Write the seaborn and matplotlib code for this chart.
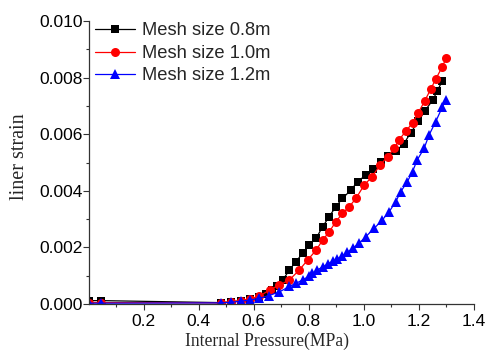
import matplotlib
matplotlib.use("Agg")
import matplotlib.pyplot as plt
import seaborn as sns
from matplotlib.ticker import MultipleLocator, FixedLocator

# dados
x_08 = [0.0, 0.045, 0.48, 0.517, 0.554, 0.584, 0.62, 0.645, 0.665, 0.685, 0.705,
        0.729, 0.753, 0.777, 0.80, 0.826, 0.85, 0.874, 0.898, 0.922, 0.953, 0.977,
        1.007, 1.034, 1.061, 1.088, 1.116, 1.146, 1.17, 1.198, 1.222, 1.251, 1.267, 1.285]
y_08 = [0.00012, 0.00012, 0.00005, 0.00008, 0.00012, 0.00017, 0.00025, 0.00035, 0.00048,
        0.00065, 0.00085, 0.0012, 0.0015, 0.00179, 0.00208, 0.00232, 0.00273, 0.00309,
        0.00344, 0.00373, 0.00403, 0.00432, 0.00456, 0.00478, 0.00502, 0.00522, 0.0054,
        0.00567, 0.00605, 0.00645, 0.00683, 0.00721, 0.00753, 0.00788]

x_10 = [0.0, 0.045, 0.48, 0.517, 0.554, 0.584, 0.62, 0.657, 0.693, 0.729, 0.765, 0.795,
        0.826, 0.85, 0.874, 0.898, 0.922, 0.947, 0.971, 1.001, 1.03, 1.058, 1.086, 1.11,
        1.128, 1.152, 1.177, 1.198, 1.221, 1.243, 1.261, 1.285, 1.30]
y_10 = [0.00005, 0.00005, 0.00004, 0.00007, 0.00012, 0.00018, 0.00027, 0.0005, 0.00067,
        0.00085, 0.0012, 0.00155, 0.0019, 0.00226, 0.00255, 0.00291, 0.0032, 0.00344,
        0.00373, 0.0042, 0.0045, 0.0049, 0.0052, 0.0055, 0.0058, 0.0061, 0.0064, 0.00676,
        0.00717, 0.00759, 0.00794, 0.00838, 0.0087]

x_12 = [0.0, 0.045, 0.48, 0.517, 0.554, 0.584, 0.62, 0.655, 0.693, 0.729, 0.753, 0.777,
        0.80, 0.813, 0.83, 0.85, 0.868, 0.886, 0.904, 0.922, 0.94, 0.959, 0.983, 1.007,
        1.037, 1.067, 1.092, 1.116, 1.134, 1.158, 1.177, 1.194, 1.219, 1.237, 1.261,
        1.285, 1.297]
y_12 = [0.00003, 0.00003, 0.00004, 0.00006, 0.0001, 0.00014, 0.0002, 0.0003, 0.00043,
        0.00062, 0.00073, 0.00085, 0.00098, 0.00108, 0.0012, 0.00131, 0.00141, 0.00151,
        0.0016, 0.0017, 0.00183, 0.00197, 0.00215, 0.00238, 0.00267, 0.00297, 0.00326,
        0.00362, 0.00397, 0.00432, 0.00468, 0.00509, 0.0055, 0.00597, 0.00644, 0.00695,
        0.0072]

labels = ["Mesh size 0.8m", "Mesh size 1.0m", "Mesh size 1.2m"]
x_ticks = [0.2, 0.4, 0.6, 0.8, 1.0, 1.2, 1.4]

sns.set_style("ticks")
plt.rcParams['font.family'] = ['Liberation Sans', 'DejaVu Sans']

fig = plt.figure(figsize=(4.86, 3.56), dpi=100)
ax = fig.add_axes([0.183, 0.146, 0.792, 0.795])

series = [(x_08, y_08, 'black', 's', 6), (x_10, y_10, 'red', 'o', 6.5), (x_12, y_12, 'blue', '^', 7)]
for (xs, ys, cor, mk, ms), lab in zip(series, labels):
    sns.lineplot(x=xs, y=ys, ax=ax, color=cor, marker=mk, markersize=ms,
                 markeredgewidth=0, linewidth=0.9, label=lab, sort=False, estimator=None)

ax.set_xlim(0, 1.4)
ax.set_ylim(0, 0.010)
ax.xaxis.set_major_locator(FixedLocator(x_ticks))
ax.xaxis.set_minor_locator(FixedLocator([0.1, 0.3, 0.5, 0.7, 0.9, 1.1, 1.3]))
ax.yaxis.set_major_locator(MultipleLocator(0.002))
ax.yaxis.set_minor_locator(MultipleLocator(0.001))
ax.xaxis.set_major_formatter(matplotlib.ticker.FormatStrFormatter('%.1f'))
ax.yaxis.set_major_formatter(matplotlib.ticker.FormatStrFormatter('%.3f'))

sns.despine(ax=ax)
for s in ['left', 'bottom']:
    ax.spines[s].set_color('#333333')
    ax.spines[s].set_linewidth(0.9)
ax.tick_params(which='major', direction='out', length=4.5, width=0.8, labelsize=12.5,
               colors='#333333', labelcolor='black')
ax.tick_params(axis='y', which='major', pad=0)
ax.tick_params(axis='x', which='major', pad=3)
ax.tick_params(which='minor', direction='out', length=2.5, width=0.8, colors='#333333')

ax.set_xlabel('Internal Pressure(MPa)', family='Liberation Serif', fontsize=12.7)
ax.set_ylabel('liner strain', family='Liberation Serif', fontsize=14.5)
ax.xaxis.set_label_coords(0.463, -0.1)
ax.yaxis.set_label_coords(-0.157, 0.52)

leg = ax.legend(loc='upper left', frameon=False, fontsize=13.2, handlelength=2.2,
                handletextpad=0.35, labelspacing=0.3, borderaxespad=0, borderpad=0,
                bbox_to_anchor=(0.016, 0.995))

fig.savefig('out.png', dpi=100)
